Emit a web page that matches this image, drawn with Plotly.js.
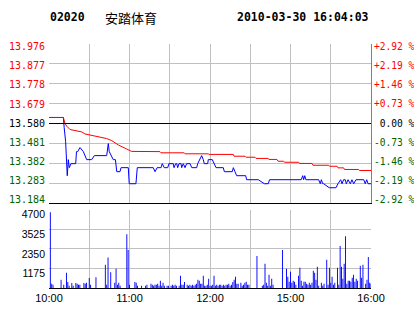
<!DOCTYPE html>
<html><head><meta charset="utf-8">
<script src="https://cdn.plot.ly/plotly-3.0.1.min.js"></script>
<style>html,body{margin:0;padding:0;background:#fff;} #chart{width:414px;height:314px;}</style>
</head><body><div id="chart"></div>
<script>
// ---- data ----
const stockCode = '02020';
const stockName = '安踏体育';
const timestamp = '2010-03-30 16:04:03';
const prevClose = 13.58;
const priceTicks = [13.184, 13.283, 13.382, 13.481, 13.580, 13.679, 13.778, 13.877, 13.976];
const volTicks = [1175, 2350, 3525, 4700];
const gridMinutes = [0, 30, 60, 90, 120, 150, 180, 210, 240];
const timeLabels = ['10:00', '', '11:00', '', '12:00', '', '15:00', '', '16:00'];

// minutes since 10:00 (trading minutes, lunch break removed)
const priceMin = [0,10.7,11.3,12.4,13.6,14.4,15.1,16.4,19.9,20.5,21.4,23.1,25.6,28.1,31.8,33.8,43.0,44.2,44.9,47.9,49.5,50.5,52.9,53.7,59.1,59.8,64.8,65.8,77.7,79.0,80.6,83.5,84.4,85.9,88.5,89.4,92.6,93.2,94.4,95.2,95.9,96.9,98.4,98.9,100.1,101.4,102.6,105.1,106.4,110.1,110.8,112.0,113.8,115.0,115.7,118.3,118.7,121.7,123.2,124.5,129.9,130.7,136.6,137.4,138.6,139.9,146.6,147.3,156.0,160.5,163.4,164.4,188.0,189.1,189.8,190.6,191.5,201.0,202.2,203.0,204.0,204.7,208.9,213.9,215.4,217.4,218.4,219.6,220.8,221.6,222.9,224.6,225.8,227.1,228.8,234.6,235.7,236.8,237.8,240];
const price = [13.61,13.61,13.56,13.49,13.32,13.40,13.36,13.38,13.38,13.44,13.44,13.46,13.44,13.40,13.40,13.42,13.42,13.48,13.44,13.40,13.40,13.34,13.34,13.36,13.36,13.28,13.28,13.36,13.36,13.34,13.36,13.36,13.38,13.36,13.36,13.38,13.38,13.36,13.38,13.38,13.36,13.38,13.38,13.36,13.38,13.36,13.38,13.38,13.36,13.36,13.38,13.40,13.42,13.40,13.38,13.38,13.40,13.40,13.38,13.36,13.36,13.34,13.34,13.36,13.34,13.32,13.32,13.30,13.30,13.28,13.28,13.30,13.30,13.32,13.30,13.32,13.30,13.30,13.28,13.30,13.28,13.28,13.26,13.26,13.28,13.30,13.28,13.30,13.30,13.28,13.30,13.28,13.30,13.28,13.30,13.30,13.28,13.30,13.28,13.28];

const avgMin = [0,10.7,11.9,13.2,15.7,19.4,24.4,26.8,31.8,36.7,43.0,46.7,51.7,57.9,61.6,82.7,83.5,100.8,101.4,118.7,119.3,137.4,137.9,146.1,146.8,153.5,154.3,163.2,164.0,169.9,170.7,174.9,175.5,186.1,186.7,196.0,196.8,208.5,209.1,214.7,215.4,219.6,220.3,230.8,231.4,240];
const avgPrice = [13.61,13.61,13.58,13.567,13.55,13.545,13.538,13.528,13.52,13.512,13.505,13.495,13.473,13.453,13.441,13.44,13.434,13.434,13.429,13.429,13.426,13.426,13.417,13.417,13.412,13.412,13.406,13.406,13.401,13.401,13.392,13.392,13.387,13.387,13.381,13.381,13.372,13.372,13.367,13.367,13.359,13.359,13.351,13.351,13.346,13.346];

const volMin = [1,2,3,9,11,13,14,15,17,18,20,21,22,23,26,27,28,30,31,35,42,43,44,46,49,50,51,52,53,58,59,60,64,65,66,69,72,73,76,77,78,79,80,81,82,83,84,85,86,88,89,91,92,93,94,95,97,98,99,100,101,103,104,105,106,107,108,109,110,111,112,113,114,115,116,117,118,119,120,121,122,123,124,125,126,127,128,129,130,131,132,133,134,135,136,137,138,139,140,141,143,144,145,146,147,148,149,155,159,160,161,162,163,164,165,166,167,174,177,178,179,180,181,182,183,184,186,187,188,189,190,191,192,193,194,195,196,197,198,199,200,201,203,204,205,207,208,209,210,211,212,213,215,216,217,218,219,220,221,222,223,224,225,226,227,228,229,230,232,233,234,236,237,238,239,240];
const vol = [4550,260,200,500,200,910,360,140,300,140,300,260,200,200,300,260,320,600,200,650,1390,200,1825,950,320,1150,200,320,140,3230,2280,200,360,320,140,140,140,200,260,200,140,200,200,260,140,440,140,320,140,140,140,140,200,140,200,140,140,730,200,200,360,200,140,200,140,200,140,200,260,500,440,260,260,730,140,140,200,555,140,140,200,730,140,200,140,200,200,140,200,140,200,200,260,140,200,360,500,675,260,260,320,140,200,320,380,200,200,1925,140,200,1450,320,140,790,140,555,200,2280,1150,675,380,970,320,440,380,200,730,1210,440,140,380,380,260,200,320,200,320,1030,910,500,1270,140,320,140,260,1690,200,1210,320,675,200,320,1210,200,2520,1270,555,1450,3110,260,440,440,380,615,790,380,555,440,1330,615,1390,260,500,1865,320,260];

// ---- styling ----
const RED = '#ff0000', GREEN = '#006400', BLACK = '#000000', BLUE = '#0000ff';
const GRID = '#c0c0c0';
const W = 414, H = 314, ML = 49, MR = 43, MT = 44, MB = 26;
const plotW = W - ML - MR, plotH = H - MT - MB;
const pyTop = 203, pyVolTop = 209.7; // pixel rows of panel edges
const topDomain = [(H - MB - pyTop) / plotH, 1];
const volDomain = [0, (H - MB - pyVolTop) / plotH];

// price-panel labels sit slightly inside the panel: top label 2.7px lower, bottom label 3.3px higher
const pLo = priceTicks[0], pHi = priceTicks[priceTicks.length - 1];
const labelPerPx = (pHi - pLo) / ((pyTop - MT) - 2.7 - 3.3);
const labelRange = [pLo - 3.3 * labelPerPx, pHi + 2.7 * labelPerPx];

function colorFor(p) { return p > prevClose + 1e-9 ? RED : (p < prevClose - 1e-9 ? GREEN : BLACK); }
const leftText = priceTicks.map(p => `<span style="color:${colorFor(p)}">${p.toFixed(3)}</span>`);
const rightText = priceTicks.map(p => {
  const pct = (p / prevClose - 1) * 100;
  const sign = pct > 0.005 ? '+' : (pct < -0.005 ? '-' : '\u00a0');
  return `<span style="color:${colorFor(p)}">${sign}${Math.abs(pct).toFixed(2)} %</span>`;
});

const mono = {family: 'DejaVu Sans Mono, monospace', size: 10, color: BLACK};
const monoR = {family: 'DejaVu Sans Mono, monospace', size: 9.6, color: BLACK};
const sans = {family: 'Liberation Sans, Arial, sans-serif', size: 10.5, color: BLACK};

const traces = [
  {type: 'scatter', mode: 'lines', x: priceMin, y: price, xaxis: 'x', yaxis: 'y',
   line: {color: BLUE, width: 1}, hoverinfo: 'skip'},
  {type: 'scatter', mode: 'lines', x: avgMin, y: avgPrice, xaxis: 'x', yaxis: 'y',
   line: {color: RED, width: 1}, hoverinfo: 'skip'},
  {type: 'bar', x: volMin, y: vol, xaxis: 'x2', yaxis: 'y2', width: 0.7,
   marker: {color: BLUE, line: {width: 0}}, hoverinfo: 'skip'},
  // empty traces so the label-only overlay axes get drawn
  {type: 'scatter', mode: 'lines', x: [], y: [], xaxis: 'x', yaxis: 'y3', hoverinfo: 'skip'},
  {type: 'scatter', mode: 'lines', x: [], y: [], xaxis: 'x', yaxis: 'y4', hoverinfo: 'skip'}
];

function px2x(px) { return (px - ML) / plotW; }
function py2y(py) { return (H - MB - py) / plotH; }

const layout = {
  width: W, height: H,
  margin: {l: ML, r: MR, t: MT, b: MB, pad: 0},
  paper_bgcolor: '#ffffff', plot_bgcolor: '#ffffff',
  showlegend: false,
  xaxis: {domain: [0, 1], range: [0, 240], anchor: 'y', tickvals: gridMinutes, showticklabels: false,
          ticks: '', showgrid: true, gridcolor: GRID, gridwidth: 1, zeroline: false,
          showline: true, linecolor: BLACK, linewidth: 1, fixedrange: true},
  yaxis: {domain: topDomain, range: [pLo, pHi], anchor: 'x',
          tickvals: priceTicks, showticklabels: false, ticks: '',
          showgrid: true, gridcolor: GRID, gridwidth: 1, zeroline: false, showline: false, fixedrange: true},
  yaxis4: {overlaying: 'y', side: 'left', anchor: 'x', range: labelRange,
           tickvals: priceTicks, ticktext: leftText, tickfont: mono, ticks: '', ticklabelstandoff: 3,
           showgrid: false, zeroline: false, showline: false, fixedrange: true},
  yaxis3: {overlaying: 'y', side: 'right', anchor: 'x', range: labelRange,
           tickvals: priceTicks, ticktext: rightText, tickfont: monoR, ticks: '', ticklabelstandoff: 0,
           showgrid: false, zeroline: false, showline: true, linecolor: '#808080', linewidth: 1, fixedrange: true},
  xaxis2: {domain: [0, 1], range: [0, 240], anchor: 'y2', tickvals: gridMinutes, ticktext: timeLabels,
           tickfont: {family: 'Liberation Sans, Arial, sans-serif', size: 11, color: BLACK}, ticks: '',
           showgrid: true, gridcolor: GRID, gridwidth: 1, zeroline: false,
           showline: true, linecolor: BLACK, linewidth: 1, fixedrange: true},
  yaxis2: {domain: volDomain, range: [0, volTicks[volTicks.length - 1]], anchor: 'x2',
           tickvals: volTicks, ticktext: volTicks.map(String), tickfont: sans, ticks: '', ticklabelstandoff: 3,
           ticklabelshift: 5,
           showgrid: true, gridcolor: GRID, gridwidth: 1, zeroline: false, showline: false, fixedrange: true},
  shapes: [
    {type: 'line', xref: 'x', yref: 'y', x0: 0, x1: 240, y0: prevClose, y1: prevClose,
     line: {color: BLACK, width: 1}}
  ],
  annotations: [
    {text: '<b>' + stockCode + '</b>', xref: 'paper', yref: 'paper', x: px2x(48), y: py2y(17),
     xanchor: 'left', yanchor: 'middle', showarrow: false,
     font: {family: 'DejaVu Sans Mono, monospace', size: 11.5, color: BLACK}},
    {text: stockName, xref: 'paper', yref: 'paper', x: px2x(103), y: py2y(17),
     xanchor: 'left', yanchor: 'middle', showarrow: false,
     font: {family: 'Noto Sans CJK SC, sans-serif', size: 13, color: BLACK}},
    {text: '<b>' + timestamp + '</b>', xref: 'paper', yref: 'paper', x: px2x(235), y: py2y(17),
     xanchor: 'left', yanchor: 'middle', showarrow: false,
     font: {family: 'DejaVu Sans Mono, monospace', size: 11.5, color: BLACK}}
  ]
};

Plotly.newPlot('chart', traces, layout, {displayModeBar: false, staticPlot: true});
</script>
</body></html>
